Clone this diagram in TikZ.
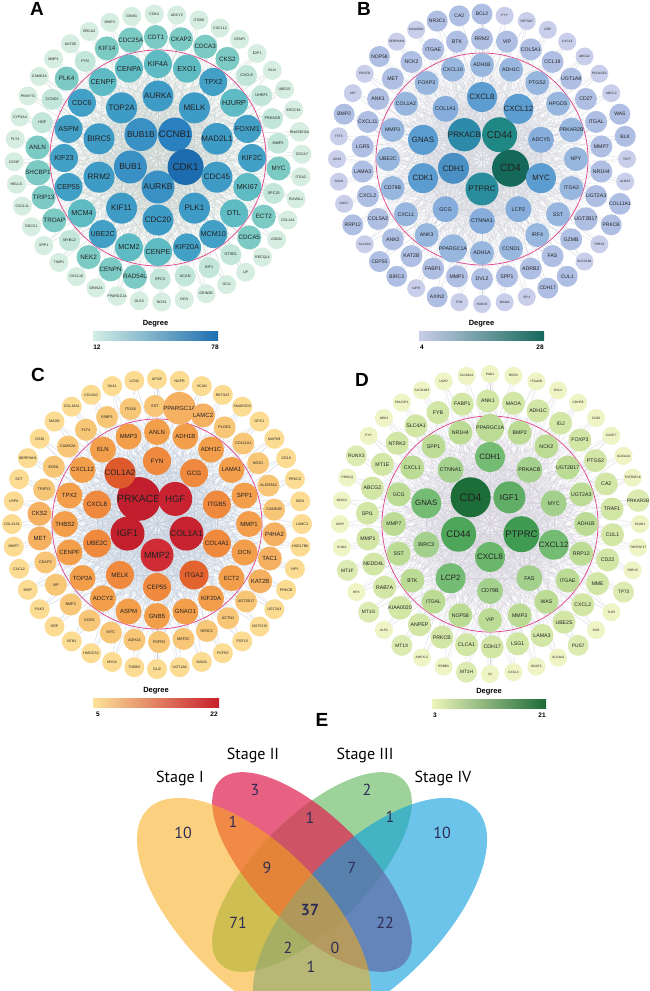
\documentclass[tikz,border=0pt]{standalone}
\usepackage{fontspec}
\setmainfont{Liberation Sans}
\newfontfamily\vennfont{PT Sans}
\usetikzlibrary{calc}
\pgfdeclarelayer{background}
\pgfsetlayers{background,main}
\definecolor{txt}{HTML}{222222}
\definecolor{PK}{HTML}{E0428A}
% A
\definecolor{Ao}{HTML}{D6EDE2}\definecolor{As}{HTML}{C2E6D9}\definecolor{Am}{HTML}{7CCAC4}
\definecolor{Ai}{HTML}{5EBBC3}\definecolor{Ai2}{HTML}{42A0C6}\definecolor{Aj}{HTML}{3E9BC6}
\definecolor{Ac1}{HTML}{3990C5}\definecolor{Ac2}{HTML}{2B80BF}\definecolor{Ac3}{HTML}{1D6CB0}
\definecolor{EA}{HTML}{CBD5D1}
\definecolor{barA0}{HTML}{D3EEE4}\definecolor{barA1}{HTML}{5FBBC4}\definecolor{barA2}{HTML}{1E6EB0}
% B
\definecolor{Bo}{HTML}{C9CFEA}\definecolor{Bm}{HTML}{AFBFE3}\definecolor{Bi}{HTML}{98B7DF}
\definecolor{Bj}{HTML}{86ADDB}\definecolor{Bg}{HTML}{5C9DD1}\definecolor{B1}{HTML}{2E8AA9}
\definecolor{B2}{HTML}{1F8884}\definecolor{B3}{HTML}{15695A}\definecolor{B4}{HTML}{2A8D9E}
\definecolor{B5}{HTML}{4A90C5}\definecolor{EB}{HTML}{D4D6DE}
\definecolor{barB0}{HTML}{C9CDEA}\definecolor{barB1}{HTML}{78B3DA}\definecolor{barB2}{HTML}{15695A}
% C
\definecolor{Co}{HTML}{FBDC92}\definecolor{Cs}{HTML}{F8C677}\definecolor{Cm}{HTML}{F5B061}
\definecolor{Ci}{HTML}{F39E4B}\definecolor{Cj}{HTML}{EF893E}\definecolor{Ck}{HTML}{E3632F}
\definecolor{Cl}{HTML}{DE5A2C}\definecolor{C1}{HTML}{C11F2D}\definecolor{C2}{HTML}{C92331}
\definecolor{C3}{HTML}{C72230}\definecolor{C4}{HTML}{D02C35}\definecolor{C5}{HTML}{C31F2D}
\definecolor{EC}{HTML}{C6D1DF}
\definecolor{barC0}{HTML}{FCE298}\definecolor{barC1}{HTML}{F4A04B}\definecolor{barC2}{HTML}{C71E2C}
% D
\definecolor{Do}{HTML}{EEF4C3}\definecolor{Dn}{HTML}{DCEBB1}\definecolor{Dm}{HTML}{D2E6A6}
\definecolor{Di}{HTML}{BCDC96}\definecolor{Dj}{HTML}{A3D18D}\definecolor{Dg}{HTML}{74BC73}
\definecolor{D1}{HTML}{1C6D37}\definecolor{D2}{HTML}{60AE66}\definecolor{D3}{HTML}{3F9B52}
\definecolor{D4}{HTML}{6AB76B}\definecolor{D5}{HTML}{4EA65B}\definecolor{ED}{HTML}{D7D3DD}
\definecolor{barD0}{HTML}{EEF5B9}\definecolor{barD1}{HTML}{8CC77E}\definecolor{barD2}{HTML}{1C6B38}
% Venn
\definecolor{VY}{HTML}{F9AD16}\definecolor{VP}{HTML}{E11F4E}\definecolor{VG}{HTML}{5DB757}
\definecolor{VB}{HTML}{0A9EDF}\definecolor{VT}{HTML}{2D2D55}

\tikzset{
 gn/.style n args={3}{circle, inner sep=0pt, minimum size=#1pt, fill=#2, text=txt,
   font=\fontsize{#3}{#3}\selectfont},
 nAo/.style={gn={19}{Ao}{3.6}}, nAs/.style={gn={21}{As}{3.8}}, nAm/.style={gn={24}{Am}{6.3}},
 nAi/.style={gn={28}{Ai}{7.2}}, nAk/.style={gn={28}{Ai2}{7.2}}, nAj/.style={gn={31}{Aj}{8}},
 nAc1/.style={gn={33}{Ac1}{8.5}}, nAc2/.style={gn={34}{Ac2}{9.5}}, nAc3/.style={gn={36}{Ac3}{9.8}},
 nBo/.style={gn={18}{Bo}{3.2}}, nBn/.style={gn={21}{Bm}{5}}, nBm/.style={gn={22}{Bm}{5.2}},
 nBi/.style={gn={24}{Bi}{5.2}}, nBj/.style={gn={26}{Bj}{5.4}}, nBg/.style={gn={30}{Bg}{7.8}},
 nB1/.style={gn={33}{B1}{8}}, nB2/.style={gn={35}{B2}{10}}, nB3/.style={gn={37}{B3}{10.5}},
 nB4/.style={gn={33}{B4}{8}}, nB5/.style={gn={31}{B5}{8}},
 nCo/.style={gn={20}{Co}{3.6}}, nCs/.style={gn={22}{Cs}{3.8}}, nCm/.style={gn={24}{Cm}{6}},
 nCi/.style={gn={26}{Ci}{6}}, nCj/.style={gn={28}{Cj}{6.3}}, nCk/.style={gn={29}{Ck}{6.5}},
 nCl/.style={gn={31}{Cl}{8}}, nC1/.style={gn={37}{C1}{10.5}}, nC2/.style={gn={34}{C2}{9.5}},
 nC3/.style={gn={34}{C3}{8.5}}, nC4/.style={gn={33}{C4}{9}}, nC5/.style={gn={34}{C5}{9.5}},
 nDo/.style={gn={18}{Do}{3.2}}, nDn/.style={gn={21}{Dn}{4.8}}, nDm/.style={gn={23}{Dm}{5.2}},
 nDi/.style={gn={24}{Di}{5.2}}, nDj/.style={gn={26}{Dj}{5.4}}, nDg/.style={gn={30}{Dg}{7.8}},
 nD1/.style={gn={40}{D1}{11}}, nD2/.style={gn={32}{D2}{8.5}}, nD3/.style={gn={36}{D3}{9.5}},
 nD4/.style={gn={30}{D4}{8}}, nD5/.style={gn={35}{D5}{9.5}},
 eA/.style={draw=EA, line width=0.12pt}, eB/.style={draw=EB, line width=0.12pt},
 eC/.style={draw=EC, line width=0.12pt}, eD/.style={draw=ED, line width=0.12pt},
 pk/.style={draw=PK, line width=0.7pt},
 plab/.style={font=\fontsize{19}{19}\selectfont\bfseries, text=black},
 deg/.style={font=\fontsize{7.5}{8}\selectfont\bfseries, text=black},
 num/.style={font=\fontsize{6.5}{7}\selectfont\bfseries, text=black},
 vs/.style={font=\vennfont\fontsize{16}{16}\selectfont, text=black},
 vn/.style={font=\vennfont\fontsize{16}{16}\selectfont, text=VT},
}

\newcommand\placering[7]{%
  \gdef#7{}%
  \foreach \lab/\st [count=\k from 0] in {#6}{%
    \pgfmathsetmacro\ang{#4-#5*\k}%
    \edef\tmp{\noexpand\node[\st] (#1\lab) at ([shift={(\ang:#3pt)}]#2) {\lab};}%
    \tmp
    \ifx#7\empty\xdef#7{#1\lab}\else\xdef#7{#7,#1\lab}\fi
  }%
}
\newcommand\drawedges[3]{%
  \foreach \u in #1 {\foreach \v in #2 {\draw[#3] (\u.center) -- (\v.center);}}%
}
\newcommand\meshall[6]{%
  \begin{pgfonlayer}{background}
  \drawedges{#1}{#1}{#6}\drawedges{#1}{#2}{#6}\drawedges{#1}{#3}{#6}
  \drawedges{#1}{#4}{#6}\drawedges{#1}{#5}{#6}
  \drawedges{#2}{#2}{#6}\drawedges{#2}{#3}{#6}\drawedges{#2}{#4}{#6}
  \end{pgfonlayer}%
}

\begin{document}
\begin{tikzpicture}[x=1pt,y=-1pt]
\useasboundingbox (0,0) rectangle (650,991);
\clip (0,0) rectangle (650,991);
\begin{pgfonlayer}{background}
\fill[white] (0,0) rectangle (650,991);
\end{pgfonlayer}

% ================= Panel A =================
\node[plab] (labA) at (37,9) {A};
\coordinate (ac) at (158,158);
\draw[pk] (ac) circle[radius=108pt];
\placering{a}{ac}{29}{126}{72}{BUB1B/nAc1,CCNB1/nAc2,CDK1/nAc3,AURKB/nAc1,BUB1/nAc1}{\Aone}
\placering{a}{ac}{62}{90}{36}{AURKA/nAj,MELK/nAj,MAD2L1/nAj,CDC45/nAj,PLK1/nAj,CDC20/nAj,KIF11/nAj,RRM2/nAj,BIRC5/nAj,TOP2A/nAj}{\Atwo}
\placering{a}{ac}{94}{90}{18}{KIF4A/nAi,EXO1/nAi,TPX2/nAk,HJURP/nAi,FOXM1/nAk,KIF2C/nAk,MKI67/nAi,DTL/nAi,MCM10/nAk,KIF20A/nAk,CENPE/nAi,MCM2/nAi,UBE2C/nAk,MCM4/nAi,CEP55/nAk,KIF23/nAk,ASPM/nAk,CDC6/nAk,CENPF/nAi,CENPA/nAi}{\Athree}
\placering{a}{ac}{121}{91}{12}{CDT1/nAm,CKAP2/nAm,CDCA3/nAm,CKS2/nAm,CXCL8/nAs,UHRF1/nAs,PRKACB/nAs,MMP2/nAs,MYC/nAm,SPC25/nAs,ECT2/nAm,CDCA5/nAm,GTSE1/nAs,KIF1/nAs,ACAN/nAs,RFC3/nAs,RAD54L/nAm,CENPN/nAm,NEK2/nAm,MYBL2/nAs,TROAP/nAm,TRIP13/nAm,SHCBP1/nAm,ANLN/nAm,HGF/nAs,CCND1/nAs,PLK4/nAm,FYN/nAs,KIF14/nAm,CDC25A/nAm}{\Afour}
\placering{a}{ac}{144}{91.5}{9}{CDK4/nAo,ADCY2/nAo,ITGB6/nAo,CXCL12/nAo,CENPI/nAo,E2F1/nAo,ELN/nAo,UBE2S/nAo,ERCC6L/nAo,RNASEH2A/nAo,CDCA7/nAo,ITGA2/nAo,RUVBL1/nAo,COL1A1/nAo,ATAD2/nAo,RECQL4/nAo,LIF/nAo,GCG/nAo,GRIN2B/nAo,DCN/nAo,NOS1/nAo,DLG3/nAo,PPARGC1A/nAo,GRIN2A/nAo,CXCL10/nAo,TIMP1/nAo,SPP1/nAo,DSCC1/nAo,CXCL11/nAo,HELLS/nAo,CCNF/nAo,FLT4/nAo,CYP3A4/nAo,PKMYT1/nAo,CAMK2A/nAo,MMP1/nAo,KAT2B/nAo,BRCA2/nAo,MMP3/nAo,GINS1/nAo}{\Afive}
\meshall{\Aone}{\Atwo}{\Athree}{\Afour}{\Afive}{eA}
\shade[left color=barA0, middle color=barA1, right color=barA2] (93,331) rectangle (218,340);
\node[deg] (degA) at (155.5,324) {Degree};
\node[num] (minA) at (97,347) {12};
\node[num] (maxA) at (215,347) {78};

% ================= Panel B =================
\node[plab] (labB) at (364,9) {B};
\coordinate (bc) at (482,159);
\draw[pk] (bc) circle[radius=106pt];
\placering{b}{bc}{30}{126}{72}{PRKACB/nB1,CD44/nB2,CD4/nB3,PTPRC/nB4,CDH1/nB5}{\Bone}
\placering{b}{bc}{62}{90}{36}{CXCL8/nBg,CXCL12/nBg,ADCY5/nBj,MYC/nBg,LCP2/nBj,CTNNA1/nBj,GCG/nBj,CDK1/nBg,GNAS/nBg,COL1A1/nBj}{\Btwo}
\placering{b}{bc}{94}{90}{18}{ADH1B/nBi,ADH1C/nBi,PTGS2/nBi,HPGDS/nBi,PRKAR2B/nBi,NPY/nBi,ITGA2/nBi,SST/nBi,IRF4/nBi,CCND1/nBi,ADH1A/nBi,PPARGC1A/nBi,ANK3/nBi,CXCL1/nBi,CD79B/nBi,UBE2C/nBi,MMP3/nBi,COL1A2/nBi,FOXP3/nBi,CXCL10/nBi}{\Bthree}
\placering{b}{bc}{120}{90}{12}{RRM2/nBm,VIP/nBm,COL5A1/nBm,CCL19/nBm,UGT1A8/nBm,CD27/nBm,ITGAL/nBm,MMP7/nBm,NR1H4/nBm,UGT2A3/nBm,UGT2B17/nBm,GZMB/nBm,FAS/nBm,ADRB2/nBm,SPP1/nBm,DVL2/nBm,MMP1/nBm,FABP1/nBm,KAT2B/nBm,ANK2/nBm,COL5A2/nBm,CXCL2/nBm,LAMA3/nBm,LGR5/nBm,CXCL11/nBm,ANK1/nBm,MET/nBm,NCK2/nBm,ITGAE/nBm,BTK/nBm}{\Bfour}
\placering{b}{bc}{145}{90}{9}{BCL2/nBn,PYY/nBo,RETSAT/nBo,GRP/nBo,CXCL3/nBo,ABCG2/nBo,PCOLCE2/nBo,ABCC2/nBo,WAS/nBn,BLK/nBn,TCF7/nBo,ALOX5/nBo,COL11A1/nBn,PRKCB/nBn,THBS2/nBo,SLCO1B1/nBo,CUL1/nBn,CDH17/nBn,SPI1/nBo,MAOA/nBo,RUNX3/nBo,FYB/nBo,AXIN2/nBn,GIPR/nBo,BIRC3/nBn,CEP55/nBn,SLC4A4/nBo,RRP12/nBn,GNG7/nBo,SOX9/nBo,CD36/nBo,TFF3/nBo,BMP2/nBn,LEP/nBo,PDGFD/nBo,NOP58/nBn,SERPINH1/nBo,KIAA0020/nBo,NR3C1/nBn,CA2/nBn}{\Bfive}
\meshall{\Bone}{\Btwo}{\Bthree}{\Bfour}{\Bfive}{eB}
\shade[left color=barB0, middle color=barB1, right color=barB2] (419,331) rectangle (544,340);
\node[deg] (degB) at (481.5,324) {Degree};
\node[num] (minB) at (422,347) {4};
\node[num] (maxB) at (540,347) {28};

% ================= Panel C =================
\node[plab] (labC) at (38,375) {C};
\coordinate (cc) at (157,524);
\draw[pk] (cc) circle[radius=105pt];
\placering{c}{cc}{31}{126}{72}{PRKACB/nC1,HGF/nC2,COL1A1/nC3,MMP2/nC4,IGF1/nC5}{\Cone}
\placering{c}{cc}{63}{90}{36}{FYN/nCj,GCG/nCj,ITGB5/nCj,COL4A1/nCj,ITGA2/nCk,CEP55/nCj,MELK/nCj,UBE2C/nCj,CXCL8/nCj,COL1A2/nCl}{\Ctwo}
\placering{c}{cc}{92}{90}{18}{ANLN/nCi,ADH1B/nCi,ADH1C/nCi,LAMA1/nCi,SPP1/nCi,MMP1/nCi,DCN/nCi,ECT2/nCi,KIF20A/nCi,GNAO1/nCi,GNB5/nCi,ASPM/nCi,ADCY2/nCi,TOP2A/nCi,CENPF/nCi,THBS2/nCi,TPX2/nCi,CXCL12/nCi,ELN/nCi,MMP3/nCi}{\Cthree}
\placering{c}{cc}{118}{91}{12}{SST/nCs,PPARGC1A/nCm,LAMC2/nCm,PLOD1/nCs,COL11A1/nCs,NOS1/nCs,ALDH3A2/nCs,CAMK2B/nCs,P4HA2/nCm,TAC1/nCm,KAT2B/nCm,UGT2B17/nCs,ACTN1/nCs,NR3C1/nCs,MEF2C/nCs,FGFR3/nCs,ADH1A/nCs,MYC/nCs,SOX9/nCs,BMP2/nCs,VIP/nCs,CKAP2/nCs,MET/nCm,CKS2/nCm,TRIP13/nCs,EDN1/nCs,CAMK2A/nCs,FLT4/nCs,FABP1/nCs,ITGA6/nCs}{\Cfour}
\placering{c}{cc}{145}{90}{9}{APOE/nCo,NGFR/nCo,VCAN/nCo,RETSAT/nCo,SMARCD3/nCo,GPC1/nCo,MAPK9/nCo,CD19/nCo,PRKCZ/nCo,BGN/nCo,LAMC3/nCo,HSD17B6/nCo,NPY/nCo,PRKCB/nCo,UGT2A3/nCo,NOTCH3/nCo,FGF10/nCo,FGFR2/nCo,MAOA/nCo,UGT1A8/nCo,GLI2/nCo,TUBB3/nCo,MYLK/nCo,HMGCS2/nCo,NTN1/nCo,GRP/nCo,PAK3/nCo,IBSP/nCo,CXCL2/nCo,MMP7/nCo,COL12A1/nCo,LRP8/nCo,SCT/nCo,SERPINH1/nCo,CD36/nCo,MAOB/nCo,COL16A1/nCo,COL9A2/nCo,SAA1/nCo,LCN2/nCo}{\Cfive}
\meshall{\Cone}{\Ctwo}{\Cthree}{\Cfour}{\Cfive}{eC}
\shade[left color=barC0, middle color=barC1, right color=barC2] (93,698) rectangle (219,707);
\node[deg] (degC) at (156,691) {Degree};
\node[num] (minC) at (98,714) {5};
\node[num] (maxC) at (214,714) {22};

% ================= Panel D =================
\node[plab] (labD) at (362,380) {D};
\coordinate (dc) at (490,524);
\draw[pk] (dc) circle[radius=108pt];
\placering{d}{dc}{33}{126}{72}{CD4/nD1,IGF1/nD2,PTPRC/nD3,CXCL8/nD4,CD44/nD5}{\Done}
\placering{d}{dc}{67}{90}{36}{CDH1/nDg,PRKACB/nDj,MYC/nDj,CXCL12/nDg,FAS/nDj,CD79B/nDj,LCP2/nDg,BIRC3/nDj,GNAS/nDg,CTNNA1/nDj}{\Dtwo}
\placering{d}{dc}{96}{90}{18}{PPARGC1A/nDi,BMP2/nDi,NCK2/nDi,UGT2B17/nDi,UGT2A3/nDi,ADH1B/nDi,RRP12/nDi,ITGAE/nDi,WAS/nDi,MMP3/nDi,VIP/nDi,NOP58/nDi,ITGAL/nDi,BTK/nDi,SST/nDi,MMP7/nDi,GCG/nDi,CXCL1/nDi,SPP1/nDi,NR1H4/nDi}{\Dthree}
\placering{d}{dc}{123}{91}{12}{ANK1/nDm,MAOA/nDm,ADH1C/nDm,IGJ/nDm,FOXP3/nDm,PTGS2/nDm,CA2/nDm,TRAF1/nDm,CUL1/nDm,CD22/nDm,MME/nDm,CXCL2/nDm,UBE2S/nDm,LAMA3/nDm,LSG1/nDm,CDH17/nDm,CLCA1/nDm,PRKCB/nDm,ANPEP/nDm,KIAA0020/nDm,RAB7A/nDm,NEDD4L/nDm,MMP1/nDm,SPI1/nDm,ABCG2/nDm,MT1E/nDm,NTRK2/nDm,SLC4A1/nDm,FYB/nDm,FABP1/nDm}{\Dfour}
\placering{d}{dc}{150}{90}{9}{PAG1/nDo,BRD3/nDo,ITGA2B/nDo,DVL2/nDo,CDHR5/nDo,CD36/nDo,CASP7/nDo,GUCA2A/nDo,TNFRSF18/nDo,PRKAR2B/nDn,PLOD1/nDo,TNFRSF17/nDo,RRP15/nDo,TP73/nDn,TLR3/nDo,SCD/nDo,PUS7/nDn,SLC4A4/nDo,DGAT2/nDo,CXCL3/nDo,GI/nDo,MT1H/nDn,ERBB3/nDo,AHCYL2/nDo,MT1X/nDn,KLF4/nDo,MT1G/nDn,HPX/nDo,MT1F/nDn,CHGA/nDo,GIPR/nDo,ABCC2/nDo,PRKCQ/nDo,RUNX3/nDn,PYY/nDo,NEK3/nDo,POLDIP1/nDo,SLCO1B3/nDo,UGP2/nDo,SLC26A3/nDo}{\Dfive}
\meshall{\Done}{\Dtwo}{\Dthree}{\Dfour}{\Dfive}{eD}
\shade[left color=barD0, middle color=barD1, right color=barD2] (432,699) rectangle (546,708);
\node[deg] (degD) at (489,692) {Degree};
\node[num] (minD) at (435,715) {3};
\node[num] (maxD) at (542,715) {21};

% ================= Panel E (Venn) =================
\node[plab] (labE) at (322,720) {E};
\fill[VG, fill opacity=0.6, rotate around={45:(312,872)}] (312,872) ellipse[x radius=130pt, y radius=55pt];
\fill[VP, fill opacity=0.7, rotate around={-45:(312,872)}] (312,872) ellipse[x radius=130pt, y radius=55pt];
\fill[VB, fill opacity=0.6, rotate around={45:(370,915)}] (370,915) ellipse[x radius=150pt, y radius=70pt];
\fill[VY, fill opacity=0.55, rotate around={-45:(254,915)}] (254,915) ellipse[x radius=150pt, y radius=70pt];
\node[vs] (s1) at (180,778) {Stage I};
\node[vs] (s2) at (253,755) {Stage II};
\node[vs] (s3) at (365,755) {Stage III};
\node[vs] (s4) at (443,778) {Stage IV};
\node[vn] (v1) at (183,833) {10};
\node[vn] (v2) at (255,790) {3};
\node[vn] (v3) at (367,790) {2};
\node[vn] (v4) at (442,833) {10};
\node[vn] (v12) at (233,822) {1};
\node[vn] (v23) at (310,818) {1};
\node[vn] (v34) at (390,817) {1};
\node[vn] (v123) at (267,868) {9};
\node[vn] (v234) at (352,868) {7};
\node[vn, font=\vennfont\fontsize{16}{16}\selectfont\bfseries] (v1234) at (310,910) {37};
\node[vn] (v13) at (238,923) {71};
\node[vn] (v24) at (385,923) {22};
\node[vn] (v134) at (288,948) {2};
\node[vn] (v124) at (335,948) {0};
\node[vn] (v14) at (311,967) {1};
\end{tikzpicture}
\end{document}
